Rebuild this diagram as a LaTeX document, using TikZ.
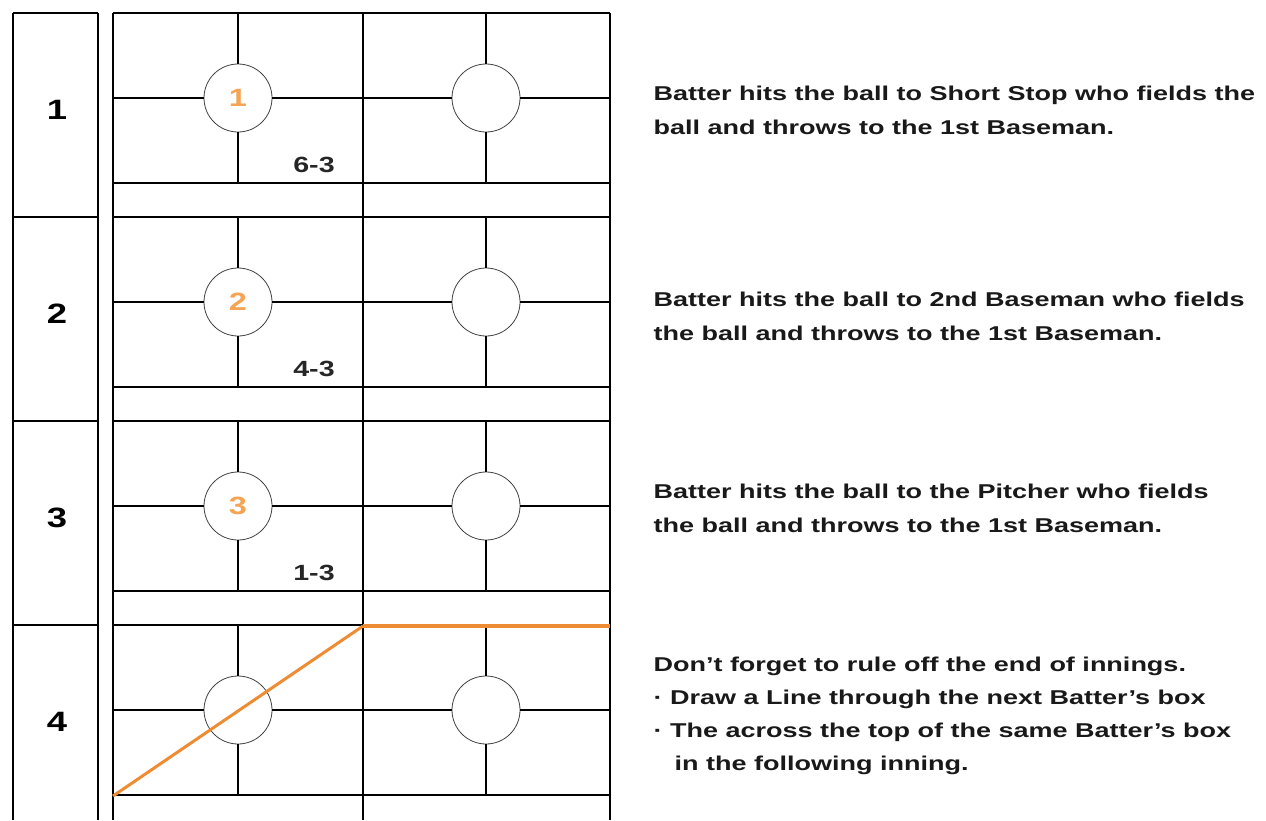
\documentclass[tikz,border=0pt]{standalone}
\usepackage{fontspec}
\setmainfont{Liberation Sans}
\newfontfamily\cardfont[FakeStretch=1.3]{Liberation Sans}
\newfontfamily\notefont[FakeStretch=1.35]{Liberation Sans}
\usetikzlibrary{positioning}
\definecolor{ruleoff}{RGB}{238,140,52}
\definecolor{runner}{RGB}{244,164,84}
\tikzset{
  base/.style={circle, draw=black!75, line width=0.8pt, minimum size=68pt, inner sep=0pt,
    font=\cardfont\bfseries\fontsize{25}{25}\selectfont, text=runner},
  grid/.style={line width=1.1pt},
  heavy/.style={line width=1.9pt},
  inning/.style={font=\cardfont\bfseries\fontsize{28}{28}\selectfont},
  play/.style={font=\cardfont\bfseries\fontsize{22}{22}\selectfont, text=black!85},
  note/.style={anchor=west, align=left, font=\notefont\bfseries\fontsize{20}{34}\selectfont, text=black!90}}

\begin{document}
\begin{tikzpicture}[x=1pt, y=-1pt]
\useasboundingbox (0,0) rectangle (1266,820);
% columns
\draw [heavy] (13,13) -- (13,820);
\draw [grid] (98,13) -- (98,820);
\draw [grid] (113,13) -- (113,820);
\draw [grid] (363,13) -- (363,820);
\draw [heavy] (610,13) -- (610,820);
% one batter row per inning
\foreach \r/\lab/\run/\play in {0/1/1/6-3, 1/2/2/4-3, 2/3/3/1-3, 3/4//}
{
  \pgfmathsetmacro\rowy{13+204*\r}
  \node [base] (p\r) at (238,\rowy+85) {\run};
  \node [base] (q\r) at (486,\rowy+85) {};
  \draw [heavy] (13,\rowy) -- (98,\rowy);
  \draw [heavy] (113,\rowy) -- (610,\rowy);
  \draw [grid] (p\r.north) -- (238,\rowy);
  \draw [grid] (p\r.south) -- (238,\rowy+170);
  \draw [grid] (q\r.north) -- (486,\rowy);
  \draw [grid] (q\r.south) -- (486,\rowy+170);
  \draw [grid] (113,\rowy+85) -- (p\r.west);
  \draw [grid] (p\r.east) -- (q\r.west);
  \draw [grid] (q\r.east) -- (610,\rowy+85);
  \draw [grid] (113,\rowy+170) -- (610,\rowy+170);
  \node [inning] (n\r) at (57,\rowy+97) {\lab};
  \node [play] (s\r) at (314,\rowy+152) {\play};
}
% end of innings
\coordinate (sw) at (113,796);
\coordinate (mid) at (363,626);
\coordinate (ne) at (610,626);
\draw [ruleoff, line width=3pt] (sw) -- (mid);
\draw [ruleoff, line width=4pt] (mid) -- (ne);
% notes
\node [note] (t0) at (650,110) {Batter hits the ball to Short Stop who fields the\\ball and throws to the 1st Baseman.};
\node [note] (t1) at (650,316) {Batter hits the ball to 2nd Baseman who fields\\the ball and throws to the 1st Baseman.};
\node [note] (t2) at (650,508) {Batter hits the ball to the Pitcher who fields\\the ball and throws to the 1st Baseman.};
\node [note, font=\notefont\bfseries\fontsize{20}{33}\selectfont] (t3) at (650,716) {Don’t forget to rule off the end of innings.\\· Draw a Line through the next Batter’s box\\· The across the top of the same Batter’s box\\\hspace*{21pt}in the following inning.};
\end{tikzpicture}
\end{document}
